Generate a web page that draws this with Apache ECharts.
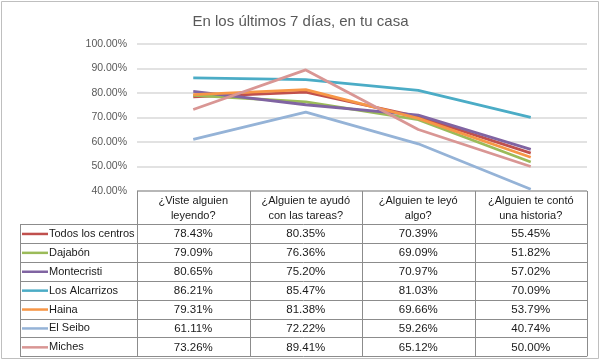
<!DOCTYPE html>
<html><head><meta charset="utf-8">
<script src="https://cdn.jsdelivr.net/npm/echarts@6/dist/echarts.min.js"></script>
<style>html,body{margin:0;padding:0;background:#fff}#c{width:601px;height:360px}</style></head>
<body><div id="c"></div>
<script>
const chartTitle = 'En los últimos 7 días, en tu casa';
const categories = ['¿Viste alguien\nleyendo?', '¿Alguien te ayudó\ncon las tareas?', '¿Alguien te leyó\nalgo?', '¿Alguien te contó\nuna historia?'];
const seriesNames = ['Todos los centros', 'Dajabón', 'Montecristi', 'Los Alcarrizos', 'Haina', 'El Seibo', 'Miches'];
const todosLosCentros = [78.43, 80.35, 70.39, 55.45];
const dajabon = [79.09, 76.36, 69.09, 51.82];
const montecristi = [80.65, 75.20, 70.97, 57.02];
const losAlcarrizos = [86.21, 85.47, 81.03, 70.09];
const haina = [79.31, 81.38, 69.66, 53.79];
const elSeibo = [61.11, 72.22, 59.26, 40.74];
const miches = [73.26, 89.41, 65.12, 50.00];
const yMin = 40, yMax = 100, yStep = 10;

const seriesData = [todosLosCentros, dajabon, montecristi, losAlcarrizos, haina, elSeibo, miches];
const colors = ['#c0504d', '#9bbb59', '#8064a2', '#4bacc6', '#f79646', '#95b3d7', '#d99694'];
const FONT = 'Liberation Sans';
const TXT = '#1a1a1a';

const chart = echarts.init(document.getElementById('c'), null, {renderer: 'canvas'});
const gridLeft = 137, gridRight = 14, gridTop = 44, gridBottom = 169;
chart.setOption({
  animation: false,
  backgroundColor: '#fff',
  title: {text: chartTitle, left: 'center', top: 9,
    textStyle: {fontFamily: FONT, fontSize: 15, fontWeight: 'normal', color: '#595959'}},
  grid: {left: gridLeft, right: gridRight, top: gridTop, bottom: gridBottom},
  xAxis: {type: 'category', data: categories, boundaryGap: true,
    axisLine: {show: false}, axisTick: {show: false}, axisLabel: {show: false}},
  yAxis: {type: 'value', min: yMin, max: yMax, interval: yStep,
    axisLine: {show: false}, axisTick: {show: false},
    axisLabel: {formatter: v => v.toFixed(2) + '%', fontFamily: FONT, fontSize: 10.5, color: '#595959', margin: 10},
    splitLine: {lineStyle: {color: '#d9d9d9', width: 1.5}}},
  series: seriesNames.map((n, i) => ({
    name: n, type: 'line', data: seriesData[i], showSymbol: false, symbol: 'none',
    lineStyle: {color: colors[i], width: 2.8}, itemStyle: {color: colors[i]}, z: 2
  }))
});

// Data table under the plot, positioned with the category axis scale
const xs = categories.map((c, i) => chart.convertToPixel({xAxisIndex: 0}, i));
const colW = xs[1] - xs[0];
const tableLeft = xs[0] - colW / 2, tableRight = xs[xs.length - 1] + colW / 2;
const tableTop = chart.convertToPixel({yAxisIndex: 0}, yMin);
const headerBottom = 224, rowH = 18.9;
const legendLeft = 20;
const lineC = '#8c8c8c';
const g = [];
const L = (x1, y1, x2, y2) => g.push({type: 'line', shape: {x1, y1, x2, y2}, style: {stroke: lineC, lineWidth: 1}, silent: true});
const tableBottom = headerBottom + rowH * seriesNames.length;
L(tableLeft, tableTop, tableRight, tableTop);
for (let i = 0; i <= categories.length; i++) {
  const x = Math.round(tableLeft + colW * i) + 0.5;
  L(x, tableTop, x, tableBottom);
}
L(legendLeft + 0.5, headerBottom, legendLeft + 0.5, tableBottom);
for (let r = 0; r <= seriesNames.length; r++) {
  const y = Math.round(headerBottom + rowH * r) + 0.5;
  L(legendLeft, y, tableRight, y);
}
categories.forEach((c, i) => {
  g.push({type: 'text', x: xs[i], y: (tableTop + headerBottom) / 2 + 1, silent: true,
    style: {text: c, fontFamily: FONT, fontSize: 11, fill: TXT, align: 'center', verticalAlign: 'middle', lineHeight: 15}});
});
seriesNames.forEach((n, r) => {
  const yc = headerBottom + rowH * r + rowH / 2 + 0.5;
  g.push({type: 'line', shape: {x1: legendLeft + 2, y1: yc, x2: legendLeft + 28, y2: yc}, style: {stroke: colors[r], lineWidth: 2.5}, silent: true});
  g.push({type: 'text', x: legendLeft + 29, y: yc, silent: true,
    style: {text: n, fontFamily: FONT, fontSize: 11, fill: TXT, align: 'left', verticalAlign: 'middle'}});
  seriesData[r].forEach((v, i) => {
    g.push({type: 'text', x: xs[i], y: yc, silent: true,
      style: {text: v.toFixed(2) + '%', fontFamily: FONT, fontSize: 11.5, fill: TXT, align: 'center', verticalAlign: 'middle'}});
  });
});
g.push({type: 'rect', shape: {x: 1.5, y: 1.5, width: 597, height: 357}, style: {fill: null, stroke: '#bfbfbf', lineWidth: 1}, silent: true});
chart.setOption({graphic: g});
</script></body></html>
